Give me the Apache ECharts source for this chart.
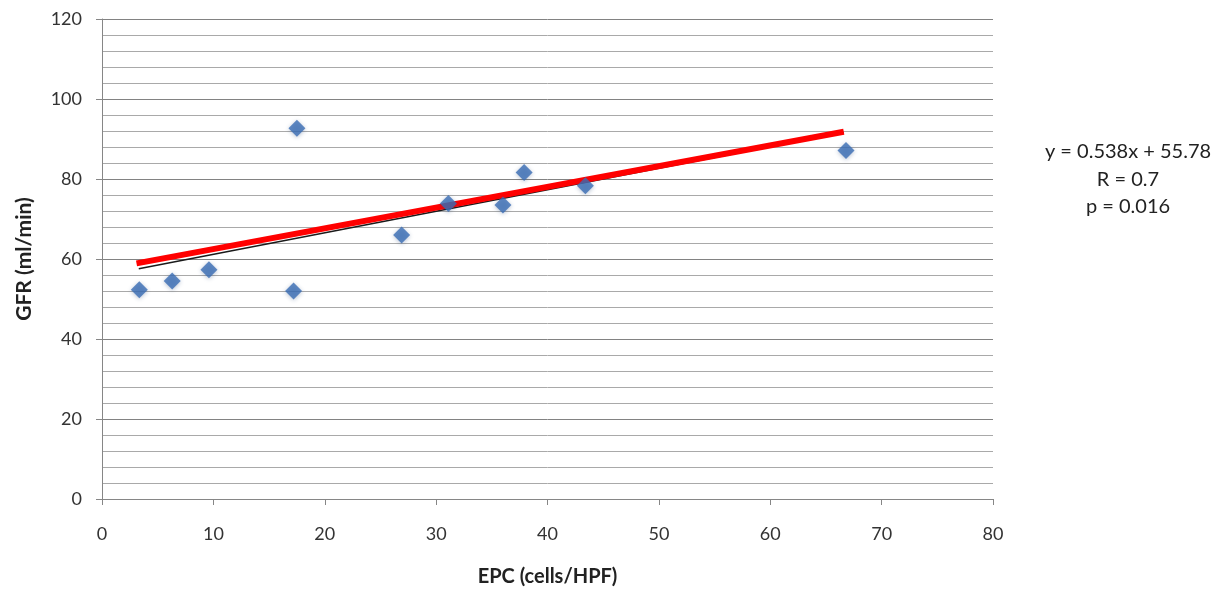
<!DOCTYPE html>
<html>
<head>
<meta charset="utf-8">
<script src="https://cdn.jsdelivr.net/npm/echarts@6/dist/echarts.min.js"></script>
<style>
  html, body { margin: 0; padding: 0; background: #fff; }
  #chart { width: 1232px; height: 592px; }
</style>
</head>
<body>
<div id="chart"></div>
<script>
// EPC count vs GFR, one point per patient
const epc = [3.35, 6.3, 9.6, 17.2, 17.5, 26.9, 31.1, 36.0, 37.9, 43.4, 66.8];
const gfr = [52.3, 54.5, 57.3, 52.0, 92.7, 66.0, 73.9, 73.5, 81.6, 78.3, 87.1];

// Linear fit reported in the annotation
const slope = 0.538;
const intercept = 55.78;
const fitRange = [3.3, 66.6];

// Highlight stroke drawn over the fit line
const highlightX = [3.1, 66.6];
const highlightY = [58.9, 91.8];

const statLines = ['y = 0.538x + 55.78', 'R = 0.7', 'p = 0.016'];

const xTicks = { min: 0, max: 80, interval: 10 };
const yTicks = { min: 0, max: 120, interval: 20 };

const points = epc.map((x, i) => [x, gfr[i]]);
const fitLine = fitRange.map(x => [x, slope * x + intercept]);
const highlight = highlightX.map((x, i) => [x, highlightY[i]]);

const font = 'Lato, "Open Sans", sans-serif';
const chart = echarts.init(document.getElementById('chart'), null, { renderer: 'canvas' });

chart.setOption({
  animation: false,
  backgroundColor: '#ffffff',
  grid: { left: 102, right: 239, top: 19, bottom: 93, outerBoundsMode: 'none', containLabel: false },
  xAxis: {
    type: 'value',
    min: xTicks.min, max: xTicks.max, interval: xTicks.interval,
    name: 'EPC (cells/HPF)',
    nameLocation: 'middle',
    nameGap: 68,
    nameTextStyle: { fontFamily: font, fontSize: 20, fontWeight: 'bold', color: '#222' },
    axisLine: { show: true, lineStyle: { color: '#868686', width: 1 } },
    axisTick: { show: true, inside: false, length: 6, lineStyle: { color: '#868686' } },
    axisLabel: { fontFamily: font, fontSize: 18, color: '#333', margin: 26 },
    splitLine: { show: false }
  },
  yAxis: {
    type: 'value',
    min: yTicks.min, max: yTicks.max, interval: yTicks.interval,
    name: 'GFR (ml/min)',
    nameLocation: 'middle',
    nameGap: 67,
    nameRotate: 90,
    nameTextStyle: { fontFamily: font, fontSize: 21, fontWeight: 'bold', color: '#222' },
    axisLine: { show: true, lineStyle: { color: '#868686', width: 1 } },
    axisTick: { show: true, inside: false, length: 6, lineStyle: { color: '#868686' } },
    axisLabel: { fontFamily: font, fontSize: 18, color: '#333', margin: 20 },
    splitLine: { show: true, lineStyle: { color: '#828282', width: 1 } },
    minorTick: { show: false, splitNumber: 5 },
    minorSplitLine: { show: true, lineStyle: { color: '#a9a9a9', width: 1 } }
  },
  series: [
    {
      type: 'line',
      data: fitLine,
      symbol: 'none',
      silent: true,
      lineStyle: { color: '#1a1a1a', width: 1.5 },
      z: 2
    },
    {
      type: 'line',
      data: highlight,
      symbol: 'none',
      silent: true,
      lineStyle: { color: '#ff0000', width: 6, cap: 'butt' },
      z: 3
    },
    {
      type: 'scatter',
      data: points,
      symbol: 'diamond',
      symbolSize: [17, 17],
      itemStyle: {
        color: '#3a6db4',
        shadowColor: 'rgba(40,70,120,0.4)',
        shadowBlur: 4,
        shadowOffsetY: 1
      },
      z: 4
    }
  ],
  graphic: statLines.map((line, i) => ({
    type: 'text',
    x: 1128,
    y: 152 + i * 27.5,
    style: {
      text: line,
      fontFamily: font,
      fontSize: 20,
      fill: '#222',
      align: 'center',
      verticalAlign: 'middle'
    }
  }))
});
</script>
</body>
</html>
